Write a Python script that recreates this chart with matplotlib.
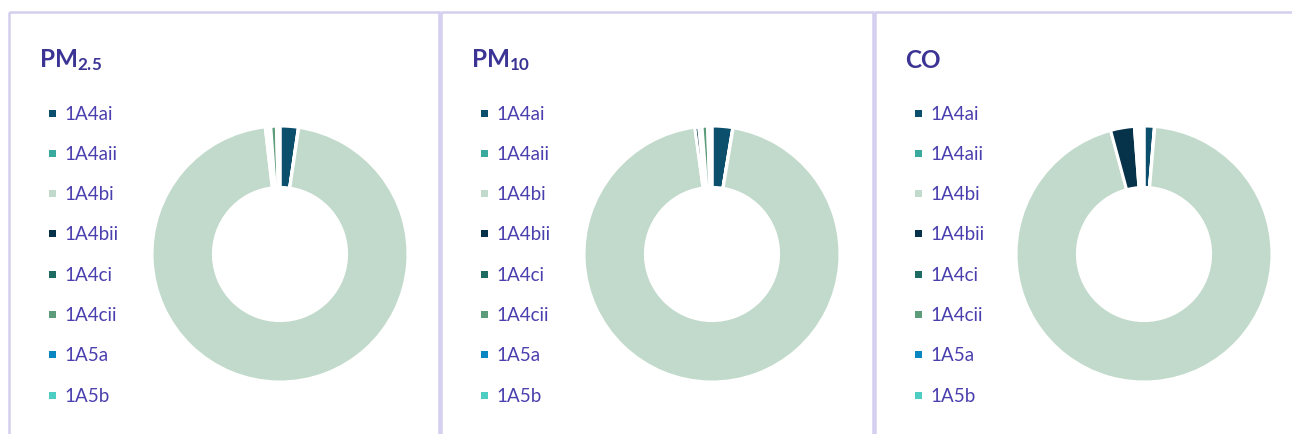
import matplotlib
matplotlib.use("Agg")
import matplotlib.pyplot as plt
from matplotlib.patches import Rectangle

plt.rcParams['font.family'] = ['Lato', 'DejaVu Sans']
plt.rcParams['mathtext.fontset'] = 'custom'
plt.rcParams['mathtext.rm'] = 'Lato'
plt.rcParams['mathtext.bf'] = 'Lato:bold'

# categorias y colores
categorias = ["1A4ai", "1A4aii", "1A4bi", "1A4bii", "1A4ci", "1A4cii", "1A5a", "1A5b"]
colores = ["#0b4f6c", "#3aaa9e", "#c2dacc", "#06324a", "#1e6b63", "#5c9c7a", "#0a86c0", "#4ecdc4"]

# participacion (%)
pm25 = [2.3, 0.05, 95.8, 0.35, 0.35, 0.7, 0.3, 0.15]
pm10 = [2.6, 0.05, 95.2, 0.5, 0.4, 0.7, 0.4, 0.15]
co = [1.3, 0.05, 94.4, 3.0, 0.3, 0.3, 0.3, 0.3]

titulos = [r"$\mathbf{PM_{2.5}}$", r"$\mathbf{PM_{10}}$", "CO"]
series = [pm25, pm10, co]

W, H = 1292, 435
fig = plt.figure(figsize=(W / 100, H / 100), dpi=100)

# capa de fondo en pixeles para marcos, titulos y leyendas
base = fig.add_axes([0, 0, 1, 1])
base.set_xlim(0, W)
base.set_ylim(H, 0)
base.axis("off")

color_titulo = "#3b3494"
color_texto = "#4a3fae"
color_marco = "#d3cfee"

paneles = [(9, 439), (441, 873), (875, 1305)]
centros_x = [280, 712, 1144]
centro_y = 255
R = 128

for k in range(3):
    x0, x1 = paneles[k]
    base.add_patch(Rectangle((x0, 13), x1 - x0, 440, fill=False,
                             edgecolor=color_marco, linewidth=1.8))
    base.text(x0 + 30, 60, titulos[k], fontsize=17.5, fontweight="bold",
              color=color_titulo, va="center", ha="left")

    # leyenda
    for i, cat in enumerate(categorias):
        y = 114 + i * 40.3
        base.add_patch(Rectangle((x0 + 40, y - 3.5), 7, 7, color=colores[i], linewidth=0))
        base.text(x0 + 55, y, cat, fontsize=13.5, color=color_texto, va="center", ha="left")

    # dona
    cx = centros_x[k]
    ax = fig.add_axes([(cx - R) / W, (H - centro_y - R) / H, 2 * R / W, 2 * R / H])
    ax.pie(series[k], colors=colores, startangle=90, counterclock=False,
           radius=1, wedgeprops=dict(width=0.48, edgecolor="white", linewidth=2.2))
    ax.set_xlim(-1, 1)
    ax.set_ylim(-1, 1)
    ax.axis("off")

fig.savefig("out.png", dpi=100)
